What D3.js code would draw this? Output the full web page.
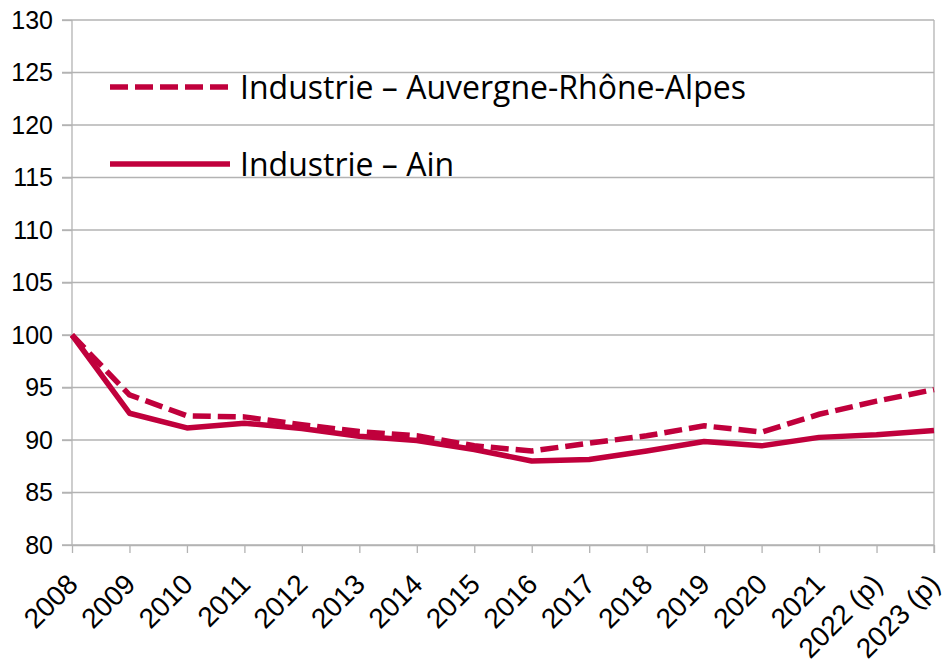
<!DOCTYPE html>
<html>
<head>
<meta charset="utf-8">
<script src="https://cdn.jsdelivr.net/npm/d3@7"></script>
<style>
  body { margin: 0; background: #fff; }
  svg { display: block; }
</style>
</head>
<body>
<div id="chart"></div>
<script>
// categories and series
const years = ["2008", "2009", "2010", "2011", "2012", "2013", "2014", "2015",
  "2016", "2017", "2018", "2019", "2020", "2021", "2022 (p)", "2023 (p)"];
const auraValues = [100, 94.3, 92.3, 92.2, 91.45, 90.8, 90.4, 89.45,
  88.95, 89.7, 90.4, 91.35, 90.75, 92.45, 93.7, 94.8];
const ainValues = [100, 92.55, 91.15, 91.6, 91.1, 90.35, 89.95, 89.1,
  88.0, 88.15, 88.95, 89.85, 89.45, 90.25, 90.5, 90.9];
const yTicks = [80, 85, 90, 95, 100, 105, 110, 115, 120, 125, 130];
const seriesNames = ["Industrie – Auvergne-Rhône-Alpes", "Industrie – Ain"];

const width = 943, height = 665;
const margin = { top: 20, right: 9, bottom: 120, left: 72 };
const color = "#c0003c";
const grid = "#b3b3b3";

const svg = d3.select("#chart")
  .append("svg")
  .attr("width", width)
  .attr("height", height);

const x = d3.scalePoint()
  .domain(years)
  .range([margin.left, width - margin.right]);

const y = d3.scaleLinear()
  .domain([80, 130])
  .range([height - margin.bottom, margin.top]);

// horizontal gridlines
svg.append("g")
  .selectAll("line")
  .data(yTicks)
  .enter()
  .append("line")
  .attr("x1", margin.left - 10)
  .attr("x2", width - margin.right)
  .attr("y1", d => y(d))
  .attr("y2", d => y(d))
  .attr("stroke", grid)
  .attr("stroke-width", 1.3);

// right border
svg.append("line")
  .attr("x1", width - margin.right)
  .attr("x2", width - margin.right)
  .attr("y1", margin.top)
  .attr("y2", height - margin.bottom + 8)
  .attr("stroke", grid)
  .attr("stroke-width", 1.3);

// Y axis
const yAxis = d3.axisLeft(y).tickValues(yTicks).tickSize(10).tickPadding(9);
const gy = svg.append("g")
  .attr("transform", `translate(${margin.left},0)`)
  .call(yAxis);
gy.selectAll("line, path").attr("stroke", grid).attr("stroke-width", 1.3);
gy.select(".domain").attr("d", `M0,${margin.top}V${height - margin.bottom}`);
gy.selectAll("text")
  .attr("fill", "#000")
  .style("font-family", "'Liberation Sans', Arial, sans-serif")
  .style("font-size", "25px");

// X axis
const xAxis = d3.axisBottom(x).tickSize(8).tickSizeOuter(0);
const gx = svg.append("g")
  .attr("transform", `translate(0,${height - margin.bottom})`)
  .call(xAxis);
gx.selectAll("line, path").attr("stroke", grid).attr("stroke-width", 1.3);
gx.selectAll("text")
  .attr("fill", "#000")
  .style("font-family", "'Liberation Sans', Arial, sans-serif")
  .style("font-size", "28px")
  .attr("text-anchor", "end")
  .attr("y", 0)
  .attr("dy", 0)
  .attr("transform", "translate(7,41) rotate(-45)");

// lines
const line = d3.line()
  .x((d, i) => x(years[i]))
  .y(d => y(d));

svg.append("path")
  .datum(auraValues)
  .attr("fill", "none")
  .attr("stroke", color)
  .attr("stroke-width", 5.5)
  .attr("stroke-dasharray", "18,7")
  .attr("d", line);

svg.append("path")
  .datum(ainValues)
  .attr("fill", "none")
  .attr("stroke", color)
  .attr("stroke-width", 5.5)
  .attr("stroke-linejoin", "round")
  .attr("d", line);

// legend
const legend = svg.append("g");
const legendRows = [
  { name: seriesNames[0], dash: "18,7", ly: 87, ty: 99 },
  { name: seriesNames[1], dash: null, ly: 164, ty: 176 }
];
legendRows.forEach(r => {
  legend.append("line")
    .attr("x1", 110)
    .attr("x2", 230)
    .attr("y1", r.ly)
    .attr("y2", r.ly)
    .attr("stroke", color)
    .attr("stroke-width", 5.5)
    .attr("stroke-dasharray", r.dash);
  legend.append("text")
    .attr("x", 240)
    .attr("y", r.ty)
    .style("font-family", "'Open Sans', 'Noto Sans', sans-serif")
    .style("font-size", "32px")
    .attr("fill", "#000")
    .text(r.name);
});
</script>
</body>
</html>
